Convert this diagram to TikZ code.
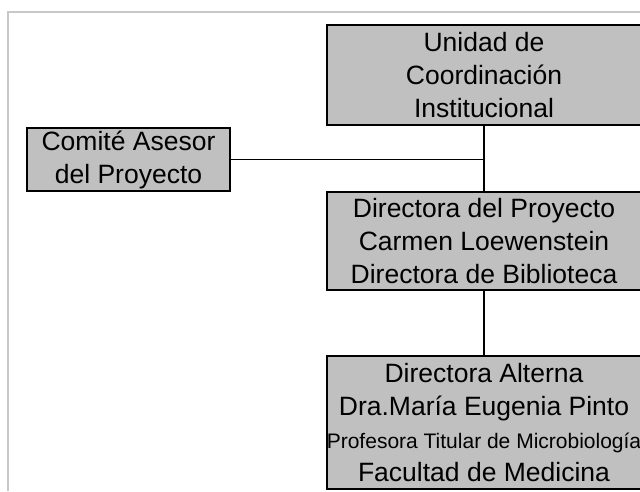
\documentclass[tikz,border=0pt]{standalone}
\usepackage{fontspec}
\setmainfont{Liberation Sans}
\usepackage{xcolor}
\definecolor{boxgray}{HTML}{C0C0C0}
\definecolor{framegray}{HTML}{C8C8C8}

\tikzset{
	orgbox/.style={draw=black, line width=1.6pt, fill=boxgray, rectangle, inner sep=0pt,
		align=center, font=\fontsize{26.5}{33}\selectfont},
	orgline/.style={line width=1.6pt}
}

\begin{document}
\begin{tikzpicture}[x=1pt,y=-1pt]
	\useasboundingbox (0,0) rectangle (640,491);
	\draw[framegray, line width=1.5pt] (8,491) |- (641,12);
	\node[orgbox, minimum width=314pt, minimum height=100pt] (unidad) at (484,75) {Unidad de\\Coordinación\\Institucional};
	\node[orgbox, minimum width=203pt, minimum height=63pt] (comite) at (128.5,159.5) {Comité Asesor\\del Proyecto};
	\node[orgbox, minimum width=314pt, minimum height=98pt] (directora) at (484,241) {Directora del Proyecto\\Carmen Loewenstein\\Directora de Biblioteca};
	\node[orgbox, minimum width=314pt, minimum height=133pt] (alterna) at (484,422.5) {Directora Alterna\\Dra.María Eugenia Pinto\\{\fontsize{21}{31}\selectfont Profesora Titular de Microbiología}\\Facultad de Medicina};
	\draw[orgline] (unidad.south) -- (directora.north);
	\draw[orgline] (comite.east) -- (comite.east -| unidad.south);
	\draw[orgline] (directora.south) -- (alterna.north);
\end{tikzpicture}
\end{document}
